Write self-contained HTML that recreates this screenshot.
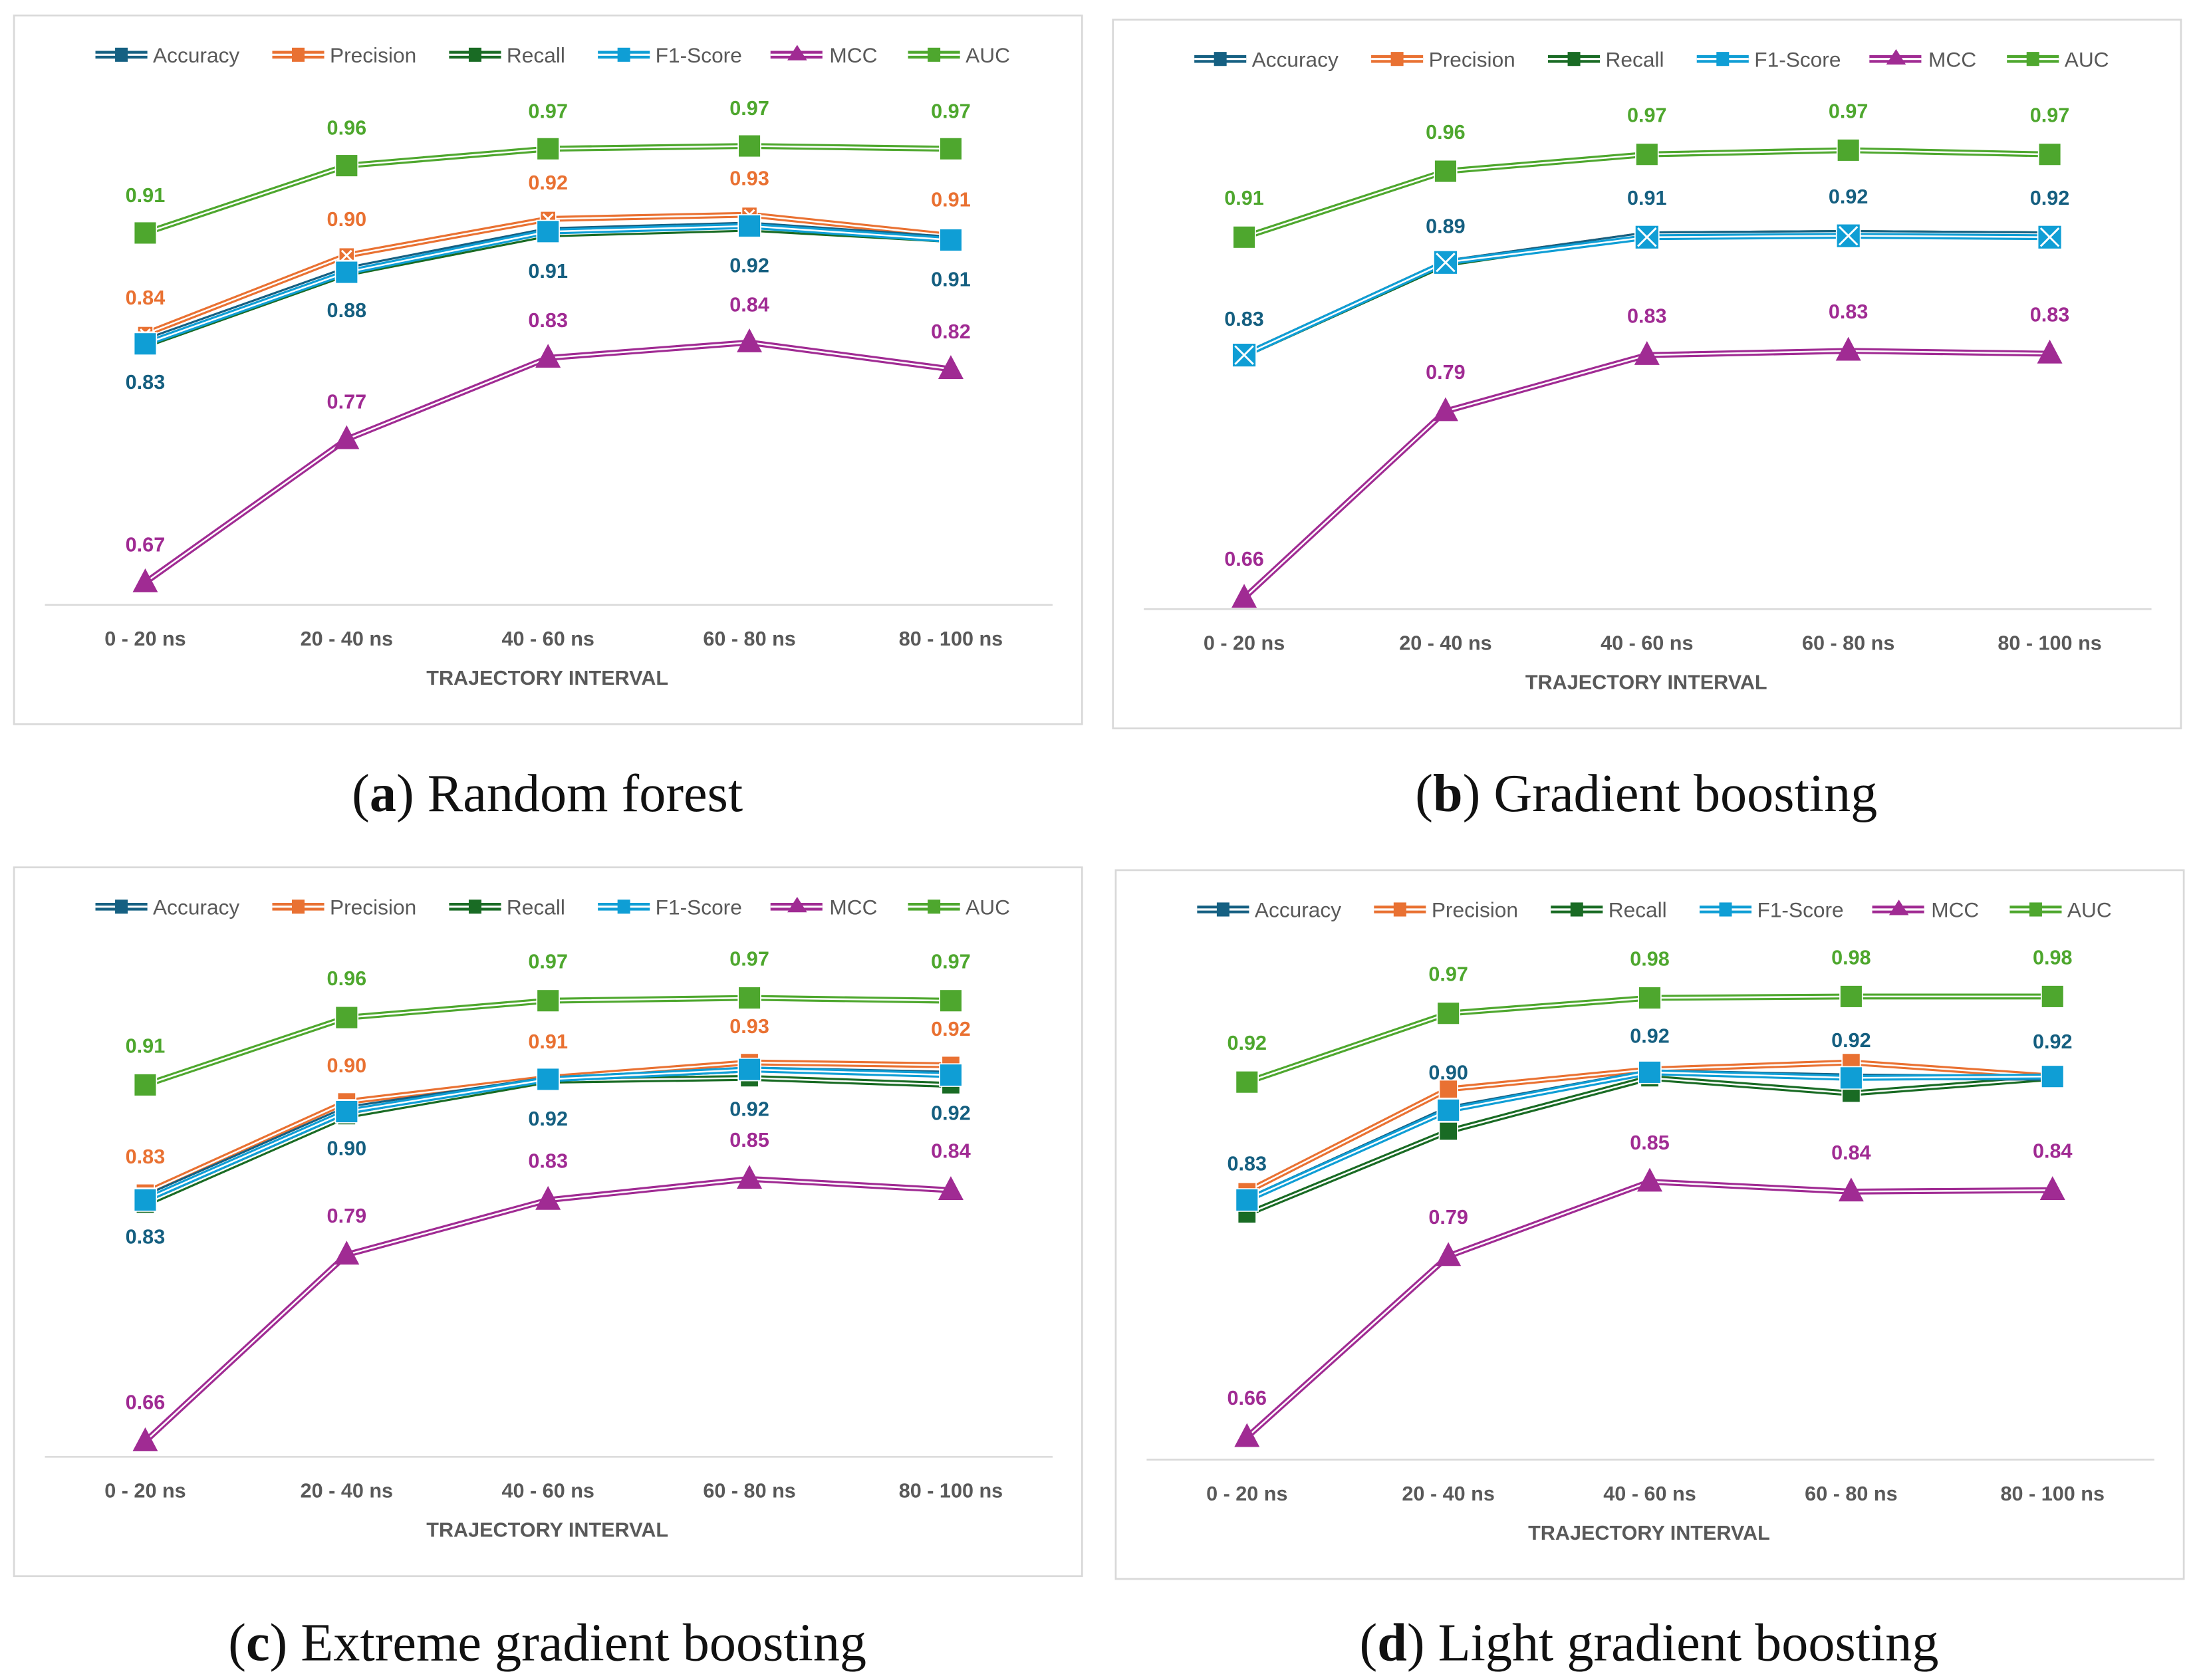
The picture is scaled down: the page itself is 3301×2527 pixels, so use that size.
<!DOCTYPE html>
<html><head><meta charset="utf-8"><style>
html,body{margin:0;padding:0;background:#fff}
svg{display:block}
</style></head><body>
<svg id="fig" xmlns="http://www.w3.org/2000/svg" width="3301" height="2527" viewBox="0 0 1564 1197" preserveAspectRatio="none"></svg>
<script>
const categories = ["0 - 20 ns","20 - 40 ns","40 - 60 ns","60 - 80 ns","80 - 100 ns"];
const metricNames = ["Accuracy","Precision","Recall","F1-Score","MCC","AUC"];
// (a) Random forest
const rfAccuracy  = [0.833,0.884,0.912,0.916,0.906];
const rfPrecision = [0.838,0.894,0.920,0.923,0.908];
const rfRecall    = [0.830,0.881,0.909,0.913,0.905];
const rfF1        = [0.831,0.882,0.911,0.915,0.905];
const rfMCC       = [0.661,0.763,0.821,0.832,0.813];
const rfAUC       = [0.910,0.958,0.970,0.972,0.970];
const rfLabelsAUC = ["0.91","0.96","0.97","0.97","0.97"];
const rfLabelsPrec = ["0.84","0.90","0.92","0.93","0.91"];
const rfLabelsAcc = ["0.83","0.88","0.91","0.92","0.91"];
const rfLabelsMCC = ["0.67","0.77","0.83","0.84","0.82"];
// (b) Gradient boosting
const gbAccuracy  = [0.826,0.892,0.912,0.913,0.912];
const gbPrecision = [0.826,0.892,0.912,0.913,0.912];
const gbRecall    = [0.826,0.891,0.912,0.913,0.912];
const gbF1        = [0.826,0.892,0.910,0.911,0.910];
const gbMCC       = [0.653,0.786,0.826,0.829,0.827];
const gbAUC       = [0.910,0.957,0.969,0.972,0.969];
const gbLabelsAUC = ["0.91","0.96","0.97","0.97","0.97"];
const gbLabelsAcc = ["0.83","0.89","0.91","0.92","0.92"];
const gbLabelsMCC = ["0.66","0.79","0.83","0.83","0.83"];
// (c) Extreme gradient boosting
const xgAccuracy  = [0.830,0.893,0.914,0.921,0.918];
const xgPrecision = [0.833,0.898,0.915,0.926,0.924];
const xgRecall    = [0.825,0.888,0.913,0.915,0.910];
const xgF1        = [0.828,0.891,0.914,0.921,0.917];
const xgMCC       = [0.656,0.789,0.828,0.843,0.835];
const xgAUC       = [0.910,0.958,0.970,0.972,0.970];
const xgLabelsAUC = ["0.91","0.96","0.97","0.97","0.97"];
const xgLabelsPrec = ["0.83","0.90","0.91","0.93","0.92"];
const xgLabelsAcc = ["0.83","0.90","0.92","0.92","0.92"];
const xgLabelsMCC = ["0.66","0.79","0.83","0.85","0.84"];
// (d) Light gradient boosting
const lgAccuracy  = [0.830,0.895,0.921,0.918,0.917];
const lgPrecision = [0.836,0.909,0.923,0.928,0.918];
const lgRecall    = [0.820,0.879,0.917,0.906,0.917];
const lgF1        = [0.830,0.894,0.921,0.917,0.918];
const lgMCC       = [0.661,0.790,0.843,0.836,0.837];
const lgAUC       = [0.914,0.963,0.974,0.975,0.975];
const lgLabelsAUC = ["0.92","0.97","0.98","0.98","0.98"];
const lgLabelsAcc = ["0.83","0.90","0.92","0.92","0.92"];
const lgLabelsMCC = ["0.66","0.79","0.85","0.84","0.84"];

const C = {acc:"#156082",prec:"#e97132",rec:"#196b24",f1:"#0f9ed5",mcc:"#a02b93",auc:"#4ea72e",accLbl:"#155f80"};
const NS = "http://www.w3.org/2000/svg";
const svg = document.getElementById("fig");
function mk(tag, attrs, parent){
  const e = document.createElementNS(NS, tag);
  for (const k in attrs) e.setAttribute(k, attrs[k]);
  (parent||svg).appendChild(e);
  return e;
}
const FONT = '"Liberation Sans", "DejaVu Sans", sans-serif';

const panels = [
  {id:"a", x:10, y:11, capY:578, cap:"Random forest", acc:rfAccuracy, prec:rfPrecision, rec:rfRecall, f1:rfF1, mcc:rfMCC, auc:rfAUC,
   labels:[[rfLabelsAUC,"auc",-27,C.auc],[rfLabelsPrec,"prec",-26,C.prec],[rfLabelsAcc,"acc",29,C.accLbl],[rfLabelsMCC,"mcc",-27,C.mcc]], style:"a"},
  {id:"b", x:793, y:14, capY:578, cap:"Gradient boosting", acc:gbAccuracy, prec:gbPrecision, rec:gbRecall, f1:gbF1, mcc:gbMCC, auc:gbAUC,
   labels:[[gbLabelsAUC,"auc",-28,C.auc],[gbLabelsAcc,"acc",-26,C.accLbl],[gbLabelsMCC,"mcc",-28,C.mcc]], style:"b"},
  {id:"c", x:10, y:618, capY:1183, cap:"Extreme gradient boosting", acc:xgAccuracy, prec:xgPrecision, rec:xgRecall, f1:xgF1, mcc:xgMCC, auc:xgAUC,
   labels:[[xgLabelsAUC,"auc",-28,C.auc],[xgLabelsPrec,"prec",-26,C.prec],[xgLabelsAcc,"acc",28,C.accLbl],[xgLabelsMCC,"mcc",-28,C.mcc]], style:"c"},
  {id:"d", x:795, y:620, capY:1183, cap:"Light gradient boosting", acc:lgAccuracy, prec:lgPrecision, rec:lgRecall, f1:lgF1, mcc:lgMCC, auc:lgAUC,
   labels:[[lgLabelsAUC,"auc",-28,C.auc],[lgLabelsAcc,"acc",-26,C.accLbl],[lgLabelsMCC,"mcc",-28,C.mcc]], style:"d"}
];

panels.forEach(p => {
  const g = mk("g", {});
  
  
  const box = mk("rect", {x:p.x, y:p.y, width:761, height:505, fill:"#fff", stroke:"#d9d9d9", "stroke-width":1.3}, g);
  
  
  const xs = i => p.x + 93.5 + i*143.5;
  const ys = v => p.y + 1065 - 1000*v;
  const ax = mk("line", {x1:p.x+22, x2:p.x+740, y1:p.y+420, y2:p.y+420, stroke:"#d9d9d9", "stroke-width":1.2}, g);
  
  
  categories.forEach((c,i) => {
    const t = mk("text", {x:xs(i), y:p.y+449, "text-anchor":"middle", "font-family":FONT, "font-size":14.5, "font-weight":"bold", fill:"#595959"}, g);
    t.textContent = c;
    
    
  });
  const at = mk("text", {x:p.x+380, y:p.y+477, "text-anchor":"middle", "font-family":FONT, "font-size":14.5, "font-weight":"bold", fill:"#595959"}, g);
  at.textContent = "TRAJECTORY INTERVAL";
  
  

  const legX = [58,184,310,416,539,637];
  const legCol = [C.acc,C.prec,C.rec,C.f1,C.mcc,C.auc];
  metricNames.forEach((n,i) => {
    const lg = mk("g", {}, g);
    
    
    const lx = p.x + legX[i], ly = p.y + 28;
    mk("line", {x1:lx, x2:lx+37, y1:ly, y2:ly, stroke:legCol[i], "stroke-width":5.5}, lg);
    mk("line", {x1:lx, x2:lx+37, y1:ly, y2:ly, stroke:"#fff", "stroke-width":1.5}, lg);
    if (i===4) mk("polygon", {points:`${lx+19},${ly-7} ${lx+26},${ly+4} ${lx+12},${ly+4}`, fill:legCol[i]}, lg);
    else mk("rect", {x:lx+14, y:ly-5, width:9, height:10, fill:legCol[i]}, lg);
    const t = mk("text", {x:lx+(i===4?42:41), y:ly+5.5, "font-family":FONT, "font-size":15, fill:"#595959"}, lg);
    t.textContent = n;
  });

  function line(vals, col, name){
    const pts = vals.map((v,i)=>xs(i)+","+ys(v)).join(" ");
    const l = mk("polyline", {points:pts, fill:"none", stroke:col, "stroke-width":4.2, "stroke-linejoin":"round"}, g);
    
    
    mk("polyline", {points:pts, fill:"none", stroke:"#fff", "stroke-width":1.2, "stroke-linejoin":"round"}, g);
  }
  function squares(vals, col, name, size, cross){
    vals.forEach((v,i) => {
      const s = mk("rect", {x:xs(i)-size/2, y:ys(v)-size/2, width:size, height:size, fill:col, stroke:"#fff", "stroke-width":0.8}, g);
      
      
      if (cross) {
        const h = size/2 - 2;
        mk("path", {d:`M${xs(i)-h},${ys(v)-h}L${xs(i)+h},${ys(v)+h}M${xs(i)+h},${ys(v)-h}L${xs(i)-h},${ys(v)+h}`, stroke:"#fff", "stroke-width":1.4}, g);
      }
    });
  }
  line(p.auc, C.auc, "auc");
  line(p.prec, C.prec, "precision");
  line(p.rec, C.rec, "recall");
  line(p.acc, C.acc, "accuracy");
  line(p.f1, C.f1, "f1-score");
  line(p.mcc, C.mcc, "mcc");

  squares(p.auc, C.auc, "auc", 16, false);
  if (p.style==="a") squares(p.prec, C.prec, "precision", 11, true);
  else squares(p.prec, C.prec, "precision", 13, false);
  squares(p.rec, C.rec, "recall", 13, false);
  squares(p.acc, C.acc, "accuracy", 13, false);
  squares(p.f1, C.f1, "f1-score", p.style==="b"?17:16, p.style==="b");
  p.mcc.forEach((v,i) => {
    const cx = xs(i), cy = ys(v);
    const t = mk("polygon", {points:`${cx},${cy-10} ${cx+9},${cy+7} ${cx-9},${cy+7}`, fill:C.mcc}, g);
    
    
  });

  p.labels.forEach(([arr,key,dy,col]) => {
    arr.forEach((lab,i) => {
      const t = mk("text", {x:xs(i), y:ys(p[key][i])+dy+5, "text-anchor":"middle", "font-family":FONT, "font-size":14.5, "font-weight":"bold", fill:col}, g);
      t.textContent = lab;
      
      
    });
  });

  const cap = mk("text", {x:p.x+380, y:p.capY, "text-anchor":"middle", "font-family":'"Liberation Serif", "DejaVu Serif", serif', "font-size":38, fill:"#111"}, g);
  
  
  const t1 = mk("tspan", {}, cap); t1.textContent = "(";
  const t2 = mk("tspan", {"font-weight":"bold"}, cap); t2.textContent = p.id;
  const t3 = mk("tspan", {}, cap); t3.textContent = ") " + p.cap;
});
</script>
</body></html>
